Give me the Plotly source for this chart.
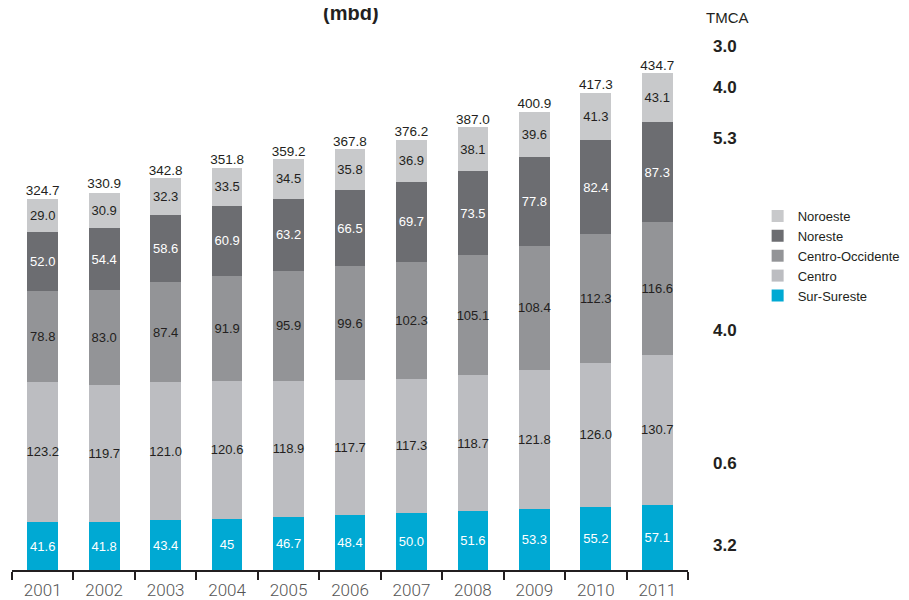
import plotly.graph_objects as go

years = ["2001", "2002", "2003", "2004", "2005", "2006", "2007", "2008", "2009", "2010", "2011"]

sur_sureste = [41.6, 41.8, 43.4, 45.0, 46.7, 48.4, 50.0, 51.6, 53.3, 55.2, 57.1]
sur_sureste_lbl = ["41.6", "41.8", "43.4", "45", "46.7", "48.4", "50.0", "51.6", "53.3", "55.2", "57.1"]
centro = [123.2, 119.7, 121.0, 120.6, 118.9, 117.7, 117.3, 118.7, 121.8, 126.0, 130.7]
centro_occidente = [78.8, 83.0, 87.4, 91.9, 95.9, 99.6, 102.3, 105.1, 108.4, 112.3, 116.6]
noreste = [52.0, 54.4, 58.6, 60.9, 63.2, 66.5, 69.7, 73.5, 77.8, 82.4, 87.3]
noroeste = [29.0, 30.9, 32.3, 33.5, 34.5, 35.8, 36.9, 38.1, 39.6, 41.3, 43.1]
totals = [324.7, 330.9, 342.8, 351.8, 359.2, 367.8, 376.2, 387.0, 400.9, 417.3, 434.7]

tmca_title = "TMCA"
tmca_values = ["3.0", "4.0", "5.3", "4.0", "0.6", "3.2"]

NUM_FONT = "Liberation Sans, Arial, sans-serif"

def fmt(vals):
    return [f"{v:.1f}" for v in vals]

series = [
    ("Sur-Sureste", sur_sureste, sur_sureste_lbl, "#00a9d3", "white"),
    ("Centro", centro, fmt(centro), "#bcbdc1", "#231f20"),
    ("Centro-Occidente", centro_occidente, fmt(centro_occidente), "#939497", "#231f20"),
    ("Noreste", noreste, fmt(noreste), "#6c6d71", "white"),
    ("Noroeste", noroeste, fmt(noroeste), "#c8c9cb", "#231f20"),
]

fig = go.Figure()
for name, vals, lbls, color, tcolor in series:
    fig.add_trace(go.Bar(
        x=years, y=vals, name=name, text=lbls,
        marker=dict(color=color, line=dict(width=0)),
        textposition="inside", insidetextanchor="middle", textangle=0,
        constraintext="none",
        textfont=dict(family=NUM_FONT, size=13, color=tcolor),
        hoverinfo="skip",
    ))

fig.add_trace(go.Scatter(
    x=years, y=totals, mode="text", text=fmt(totals),
    textposition="top center",
    textfont=dict(family=NUM_FONT, size=13.5, color="#231f20"),
    showlegend=False, hoverinfo="skip", cliponaxis=False,
))

# The page body adds an 8px offset, so the figure is 8px smaller and margins shifted.
fig.update_layout(
    width=901, height=592,
    margin=dict(l=4, r=221, t=12, b=30, autoexpand=False),
    barmode="stack", bargap=0.5,
    plot_bgcolor="white", paper_bgcolor="white",
    legend=dict(
        x=1.103, y=0.671, xanchor="left", yanchor="top",
        traceorder="reversed",
        font=dict(family="Liberation Sans, Arial, sans-serif", size=13, color="#231f20"),
        itemwidth=30, tracegroupgap=0,
        bgcolor="rgba(0,0,0,0)",
    ),
    xaxis=dict(
        type="category", range=[-0.5, 10.5],
        showline=True, linecolor="#231f20", linewidth=2,
        ticks="outside", tickson="boundaries", ticklen=8, tickwidth=2, tickcolor="#231f20",
        tickfont=dict(family="Roboto, Liberation Sans, sans-serif", size=17, color="#555555", weight=300),
        ticklabelstandoff=4,
        showgrid=False, automargin=False,
    ),
    yaxis=dict(range=[0, 481], visible=False, showgrid=False, automargin=False),
)

# Title (partially cut at top, as in the reference)
fig.add_annotation(text="<b>(mbd)</b>", xref="paper", yref="paper", x=0.501, y=1.0127,
                   xanchor="center", yanchor="middle", showarrow=False,
                   font=dict(family="Liberation Sans, Arial, sans-serif", size=20, color="#231f20"))

# TMCA column
tmca_y_px = [47, 87, 139, 330, 463, 545]
fig.add_annotation(text=tmca_title, xref="paper", yref="paper",
                   x=(727 - 12) / 676, y=(570 - 18) / 550,
                   xanchor="center", yanchor="middle", showarrow=False,
                   font=dict(family=NUM_FONT, size=15, color="#231f20"))
for val, py in zip(tmca_values, tmca_y_px):
    fig.add_annotation(text=f"<b>{val}</b>", xref="paper", yref="paper",
                       x=(725 - 12) / 676, y=(570 - py) / 550,
                       xanchor="center", yanchor="middle", showarrow=False,
                       font=dict(family=NUM_FONT, size=17, color="#231f20"))

fig.write_html("out.html")
